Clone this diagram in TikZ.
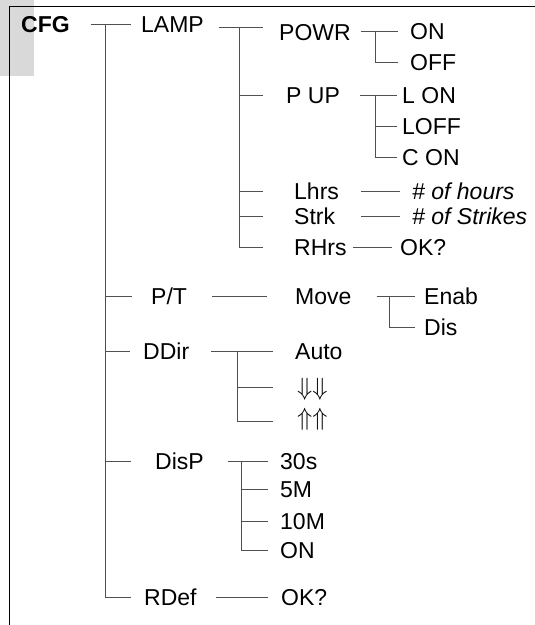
\documentclass[tikz,border=0pt]{standalone}
\usepackage{fontspec}
\setmainfont{Liberation Sans}
\usetikzlibrary{positioning}
\definecolor{Rama}{HTML}{505050}
\definecolor{Pestana}{HTML}{D9D9D9}

\begin{document}
\begin{tikzpicture}[
  x=1pt,y=-1pt,
  font=\fontsize{23}{27}\selectfont,
  opcion/.style={anchor=west,inner sep=0pt,text height=16.5pt,text depth=0pt},
  rama/.style={draw=Rama,line width=1pt}
]
  \useasboundingbox (0,0) rectangle (535,625);
  % Pestana gris y marco de la pagina.
  \fill[Pestana] (0,0) rectangle (34,76);
  \draw[line width=1pt] (535,6) -- (9,6) -- (9,625);

  % Textos del menu, por niveles.
  \node[opcion] (CFG) at (21,24.5) {\bfseries CFG};
  \node[opcion] (LAMP) at (141,24.5) {LAMP};
  \node[opcion] (POWR) at (279,32) {POWR};
  \node[opcion] (ONa) at (410,31) {ON};
  \node[opcion] (OFFa) at (410,62) {OFF};
  \node[opcion] (PUP) at (286,95) {P UP};
  \node[opcion] (LON) at (402,95) {L ON};
  \node[opcion] (LOFF) at (402,126) {LOFF};
  \node[opcion] (CON) at (402,157) {C ON};
  \node[opcion] (Lhrs) at (294,191) {Lhrs};
  \node[opcion] (horas) at (412,191) {\itshape\#~of hours};
  \node[opcion] (Strk) at (294,216) {Strk};
  \node[opcion] (golpes) at (412,216) {\itshape\#~of Strikes};
  \node[opcion] (RHrs) at (294,247) {RHrs};
  \node[opcion] (okRHrs) at (400,247) {OK?};
  \node[opcion] (PT) at (151,296) {P/T};
  \node[opcion] (Move) at (295,296) {Move};
  \node[opcion] (Enab) at (424,296) {Enab};
  \node[opcion] (Dis) at (424,327) {Dis};
  \node[opcion] (DDir) at (143,351) {DDir};
  \node[opcion] (Auto) at (295,351) {Auto};
  \node[opcion] (abajo) at (297,387) {$\Downarrow\Downarrow$};
  \node[opcion] (arriba) at (297,417) {$\Uparrow\Uparrow$};
  \node[opcion] (DisP) at (155,461) {DisP};
  \node[opcion] (s30) at (280,461) {30s};
  \node[opcion] (m5) at (280,489) {5M};
  \node[opcion] (m10) at (280,521) {10M};
  \node[opcion] (ONb) at (280,550) {ON};
  \node[opcion] (RDef) at (144,597) {RDef};
  \node[opcion] (okRDef) at (281,597) {OK?};

  % Troncos verticales de cada grupo.
  \coordinate (tCFG) at (105,24.5);
  \coordinate (tLAMP) at (239,27);
  \coordinate (tPOWR) at (375,31);
  \coordinate (tPUP) at (375,95);
  \coordinate (tMove) at (389,296);
  \coordinate (tDDir) at (237,351);
  \coordinate (tDisP) at (241,461);

  % CFG
  \draw[rama] ([xshift=21]CFG.east) -- ([xshift=-10]LAMP.west);
  \draw[rama] (tCFG) |- ([xshift=-13]RDef.west);
  \draw[rama] (tCFG |- PT.west) -- ([xshift=-19]PT.west);
  \draw[rama] (tCFG |- DDir.west) -- ([xshift=-13]DDir.west);
  \draw[rama] (tCFG |- DisP.west) -- ([xshift=-24]DisP.west);

  % LAMP
  \draw[rama] ([xshift=15]LAMP.east |- tLAMP) -- ([xshift=-16]POWR.west |- tLAMP);
  \draw[rama] (tLAMP) |- ([xshift=-31]RHrs.west);
  \draw[rama] (tLAMP |- PUP.west) -- ([xshift=-23]PUP.west);
  \draw[rama] (tLAMP |- Lhrs.west) -- ([xshift=-31]Lhrs.west);
  \draw[rama] (tLAMP |- Strk.west) -- ([xshift=-31]Strk.west);

  \draw[rama] ([xshift=10]POWR.east |- tPOWR) -- ([xshift=-12]ONa.west);
  \draw[rama] (tPOWR) |- ([xshift=-12]OFFa.west);
  \draw[rama] ([xshift=20]PUP.east) -- ([xshift=-5]LON.west);
  \draw[rama] (tPUP) |- ([xshift=-5]CON.west);
  \draw[rama] (tPUP |- LOFF.west) -- ([xshift=-5]LOFF.west);
  \draw[rama] ([xshift=22]Lhrs.east) -- ([xshift=-12]horas.west);
  \draw[rama] ([xshift=26]Strk.east) -- ([xshift=-12]golpes.west);
  \draw[rama] ([xshift=6]RHrs.east) -- ([xshift=-8]okRHrs.west);

  % P/T
  \draw[rama] ([xshift=25]PT.east) -- ([xshift=-28]Move.west);
  \draw[rama] ([xshift=25]Move.east) -- ([xshift=-9]Enab.west);
  \draw[rama] (tMove) |- ([xshift=-9]Dis.west);

  % DDir
  \draw[rama] ([xshift=22]DDir.east) -- ([xshift=-22]Auto.west);
  \draw[rama] (tDDir) |- ([xshift=-24,yshift=-4]arriba.west);
  \draw[rama] (tDDir |- abajo.west) -- ([xshift=-24]abajo.west);

  % DisP
  \draw[rama] ([xshift=24]DisP.east) -- ([xshift=-12]s30.west);
  \draw[rama] (tDisP) |- ([xshift=-12]ONb.west);
  \draw[rama] (tDisP |- m5.west) -- ([xshift=-12]m5.west);
  \draw[rama] (tDisP |- m10.west) -- ([xshift=-12]m10.west);

  % RDef
  \draw[rama] ([xshift=19]RDef.east) -- ([xshift=-13]okRDef.west);
\end{tikzpicture}
\end{document}
